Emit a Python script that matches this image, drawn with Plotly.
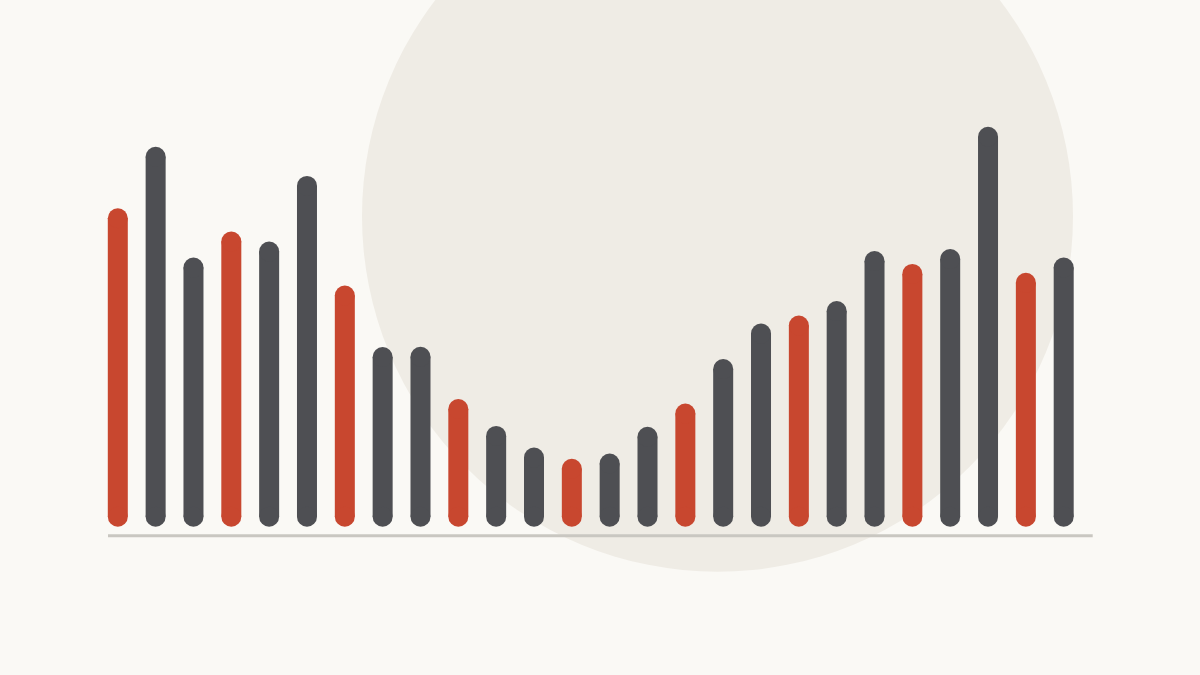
import plotly.graph_objects as go

# ---- data ----
categories = [f"P{i+1}" for i in range(26)]
values = [79.6, 95.0, 67.3, 73.8, 71.3, 87.7, 60.3, 44.9, 45.0, 31.9, 25.2, 19.8, 17.0,
          18.3, 25.0, 30.8, 41.9, 50.8, 52.8, 56.4, 68.9, 65.7, 69.4, 100.0, 63.5, 67.3]
highlight = [i % 3 == 0 for i in range(26)]

# ---- style ----
W, H = 1200, 675
BG = "#faf9f5"
CIRCLE = "#efece5"
RED = "#c8472f"
DARK = "#4e4f53"
BASE = "#c9c7c1"

x_px0, x_step = 117.8, 37.836      # pixel centre of first bar, spacing
y_px0, y_unit = 526.7, 4.0         # pixel of value 0, pixels per unit
bar_px = 20.0
r = bar_px / 2 / y_unit            # cap radius in data units

xmin = -x_px0 / x_step
xmax = xmin + W / x_step
ymax = y_px0 / y_unit
ymin = (y_px0 - H) / y_unit

xs = list(range(len(values)))

fig = go.Figure()
for flag, col in ((False, DARK), (True, RED)):
    idx = [i for i in xs if highlight[i] == flag]
    lx, ly = [], []
    for i in idx:
        lx += [i, i, None]
        ly += [r, values[i] - r, None]
    # bar bodies (thick line segments)
    fig.add_trace(go.Scatter(x=lx, y=ly, mode="lines",
                             line=dict(color=col, width=bar_px),
                             hoverinfo="skip", connectgaps=False))
    # rounded caps (top and bottom)
    fig.add_trace(go.Scatter(
        x=idx + idx, y=[values[i] - r for i in idx] + [r] * len(idx),
        mode="markers", marker=dict(size=bar_px, color=col, line=dict(width=0)),
        hoverinfo="skip", customdata=[categories[i] for i in idx] * 2))

# background circle (decorative)
fig.add_shape(type="circle", xref="paper", yref="paper", layer="below",
              x0=362 / W, x1=1073 / W, y0=1 - 571.7 / H, y1=1 + 139.3 / H,
              fillcolor=CIRCLE, line=dict(width=0))
# baseline
fig.add_shape(type="line", xref="x", yref="y", layer="below",
              x0=(108 - x_px0) / x_step, x1=(1092.7 - x_px0) / x_step,
              y0=(y_px0 - 535.8) / y_unit, y1=(y_px0 - 535.8) / y_unit,
              line=dict(color=BASE, width=3))

fig.update_layout(
    width=W, height=H, margin=dict(l=0, r=0, t=0, b=0),
    paper_bgcolor=BG, plot_bgcolor="rgba(0,0,0,0)", showlegend=False,
    xaxis=dict(range=[xmin, xmax], visible=False, fixedrange=True),
    yaxis=dict(range=[ymin, ymax], visible=False, fixedrange=True),
)
fig.write_html("out.html", config={"displayModeBar": False},
               post_script="document.body.style.margin='0';"
                           "document.body.style.overflow='hidden';"
                           "document.body.style.background='" + BG + "';")
